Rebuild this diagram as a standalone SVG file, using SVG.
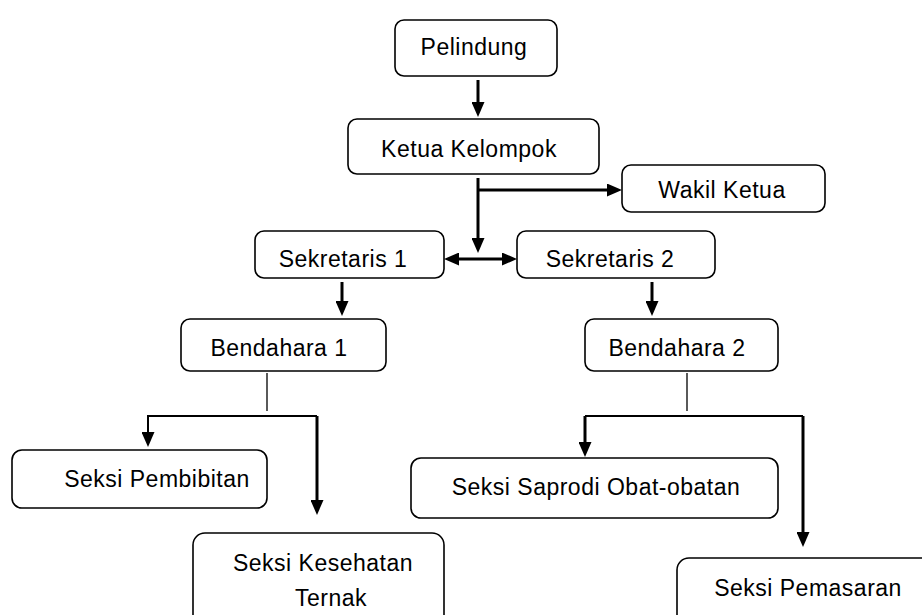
<svg xmlns="http://www.w3.org/2000/svg" width="922" height="615" viewBox="0 0 922 615">
<style>
.box{fill:#fff;stroke:#000;stroke-width:1.6}
.t{font-family:"Liberation Sans",Arial,sans-serif;font-size:23px;letter-spacing:0.5px;fill:#000;text-anchor:middle}
.c{stroke:#000;stroke-width:3;fill:none}
.thin{stroke:#000;stroke-width:1.3;fill:none}
</style>
<defs>
<marker id="ah" markerUnits="userSpaceOnUse" markerWidth="16" markerHeight="13" refX="3" refY="6.5" orient="auto-start-reverse">
<path d="M0,0 L15,6.5 L0,13 z" fill="#000"/>
</marker>
</defs>
<rect width="922" height="615" fill="#fff"/>
<g id="connectors">
<line class="c" x1="478" y1="80" x2="478" y2="105" marker-end="url(#ah)"/>
<line class="c" x1="478" y1="178" x2="478" y2="241" marker-end="url(#ah)"/>
<line class="c" x1="478" y1="190" x2="610" y2="190" marker-end="url(#ah)"/>
<line class="c" x1="456" y1="259" x2="505" y2="259" marker-start="url(#ah)" marker-end="url(#ah)"/>
<line class="c" x1="342" y1="282" x2="342" y2="304" marker-end="url(#ah)"/>
<line class="c" x1="652" y1="282" x2="652" y2="304" marker-end="url(#ah)"/>
<line class="thin" x1="267" y1="373" x2="267" y2="411"/>
<polyline class="c" style="stroke-width:2" points="148,435 148,416 317,416"/>
<line class="c" style="stroke-width:2" x1="148" y1="416" x2="148" y2="435" marker-end="url(#ah)"/>
<line class="c" x1="317" y1="416" x2="317" y2="503" marker-end="url(#ah)"/>
<line class="thin" x1="687" y1="373" x2="687" y2="411"/>
<line class="c" style="stroke-width:2" x1="585" y1="416" x2="803" y2="416"/>
<line class="c" x1="585" y1="416" x2="585" y2="445" marker-end="url(#ah)"/>
<line class="c" x1="803" y1="416" x2="803" y2="535" marker-end="url(#ah)"/>
</g>
<g id="pelindung"><rect class="box" x="395" y="20" width="162" height="56" rx="9"/><text class="t" x="474" y="55">Pelindung</text></g>
<g id="ketua"><rect class="box" x="348" y="119" width="251" height="55" rx="9"/><text class="t" x="469" y="157">Ketua Kelompok</text></g>
<g id="wakil"><rect class="box" x="622" y="165" width="203" height="47" rx="9"/><text class="t" x="722" y="198">Wakil Ketua</text></g>
<g id="sekretaris1"><rect class="box" x="255" y="231" width="189" height="47" rx="9"/><text class="t" x="343" y="267">Sekretaris 1</text></g>
<g id="sekretaris2"><rect class="box" x="517" y="231" width="198" height="47" rx="9"/><text class="t" x="610" y="267">Sekretaris 2</text></g>
<g id="bendahara1"><rect class="box" x="181" y="319" width="205" height="52" rx="9"/><text class="t" x="279" y="356">Bendahara 1</text></g>
<g id="bendahara2"><rect class="box" x="585" y="319" width="193" height="52" rx="9"/><text class="t" x="677" y="356">Bendahara 2</text></g>
<g id="pembibitan"><rect class="box" x="12" y="450" width="255" height="58" rx="10"/><text class="t" x="157" y="487">Seksi Pembibitan</text></g>
<g id="kesehatan"><rect class="box" x="193" y="533" width="251" height="100" rx="12"/><text class="t" x="323" y="571">Seksi Kesehatan</text><text class="t" x="331" y="606">Ternak</text></g>
<g id="saprodi"><rect class="box" x="411" y="458" width="367" height="60" rx="10"/><text class="t" x="596" y="495">Seksi Saprodi Obat-obatan</text></g>
<g id="pemasaran"><rect class="box" x="677" y="558" width="260" height="80" rx="12"/><text class="t" x="808" y="596">Seksi Pemasaran</text></g>
</svg>
